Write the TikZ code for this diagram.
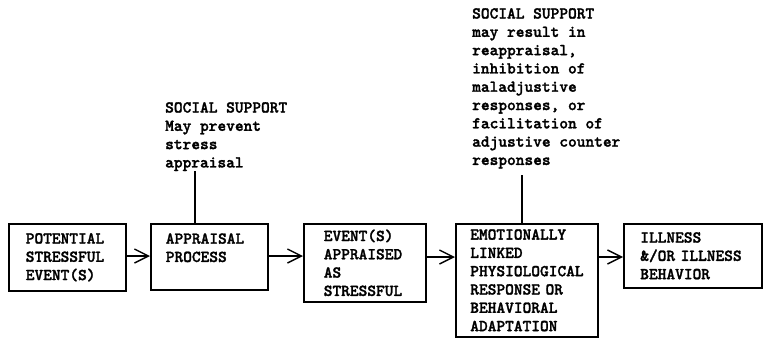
\documentclass[tikz,border=0pt]{standalone}
\usepackage{fontspec}
\newfontfamily\typefont[FakeBold=1.6]{lmmonolt10-bold.otf}
\usetikzlibrary{arrows.meta}

\tikzset{
  stage/.style={draw, line width=1.6pt, anchor=north west, align=left,
    font=\typefont\fontsize{16.6}{18.3}\selectfont, inner ysep=0pt},
  note/.style={anchor=north west, align=left, inner sep=0pt,
    font=\typefont\fontsize{16.6}{18.3}\selectfont},
  flow/.style={line width=1.4pt, -{Straight Barb[length=14pt,width=14pt]}},
  tie/.style={line width=1.3pt}
}

\begin{document}
\begin{tikzpicture}[x=1pt,y=-1pt]
		\useasboundingbox (0,0) rectangle (764,340);
		% the chain of stages
		\node[stage, text width=83pt, inner xsep=17pt, minimum height=67pt] (pot) at (8,223) {POTENTIAL\\STRESSFUL\\EVENT(S)};
		\node[stage, text width=87pt, inner xsep=15pt, minimum height=66pt] (appr) at (150,223) {APPRAISAL\\PROCESS\\\mbox{}};
		\node[stage, text width=82pt, inner xsep=20pt, minimum height=78pt] (evt) at (303,223) {EVENT(S)\\APPRAISED\\AS\\STRESSFUL};
		\node[stage, text width=113pt, inner xsep=14.5pt, minimum height=113pt] (emo) at (455,223) {EMOTIONALLY\\LINKED\\PHYSIOLOGICAL\\RESPONSE OR\\BEHAVIORAL\\ADAPTATION};
		\node[stage, text width=105pt, inner xsep=16.5pt, minimum height=64pt] (ill) at (623,223) {ILLNESS\\\&/OR ILLNESS\\BEHAVIOR};
		% social support notes
		\node[note] (sup1) at (165,102) {SOCIAL SUPPORT\\May prevent\\stress\\appraisal};
		\node[note] (sup2) at (472,8) {SOCIAL SUPPORT\\may result in\\reappraisal,\\inhibition of\\maladjustive\\responses, or\\facilitation of\\adjustive counter\\responses};
		\draw[flow] ([yshift=-33pt]pot.north east) -- ([yshift=-33pt]appr.north west);
		\draw[flow] ([yshift=-33pt]appr.north east) -- ([yshift=-33pt]evt.north west);
		\draw[flow] ([yshift=-34pt]evt.north east) -- ([yshift=-34pt]emo.north west);
		\draw[flow] ([yshift=-34pt]emo.north east) -- ([yshift=-34pt]ill.north west);
		\draw[tie] ([xshift=45pt]appr.north west) -- ([xshift=45pt]appr.north west |- sup1.south);
		\draw[tie] ([xshift=67pt]emo.north west) -- ([xshift=67pt,yshift=-6pt]emo.north west |- sup2.south);
	\end{tikzpicture}
\end{document}
